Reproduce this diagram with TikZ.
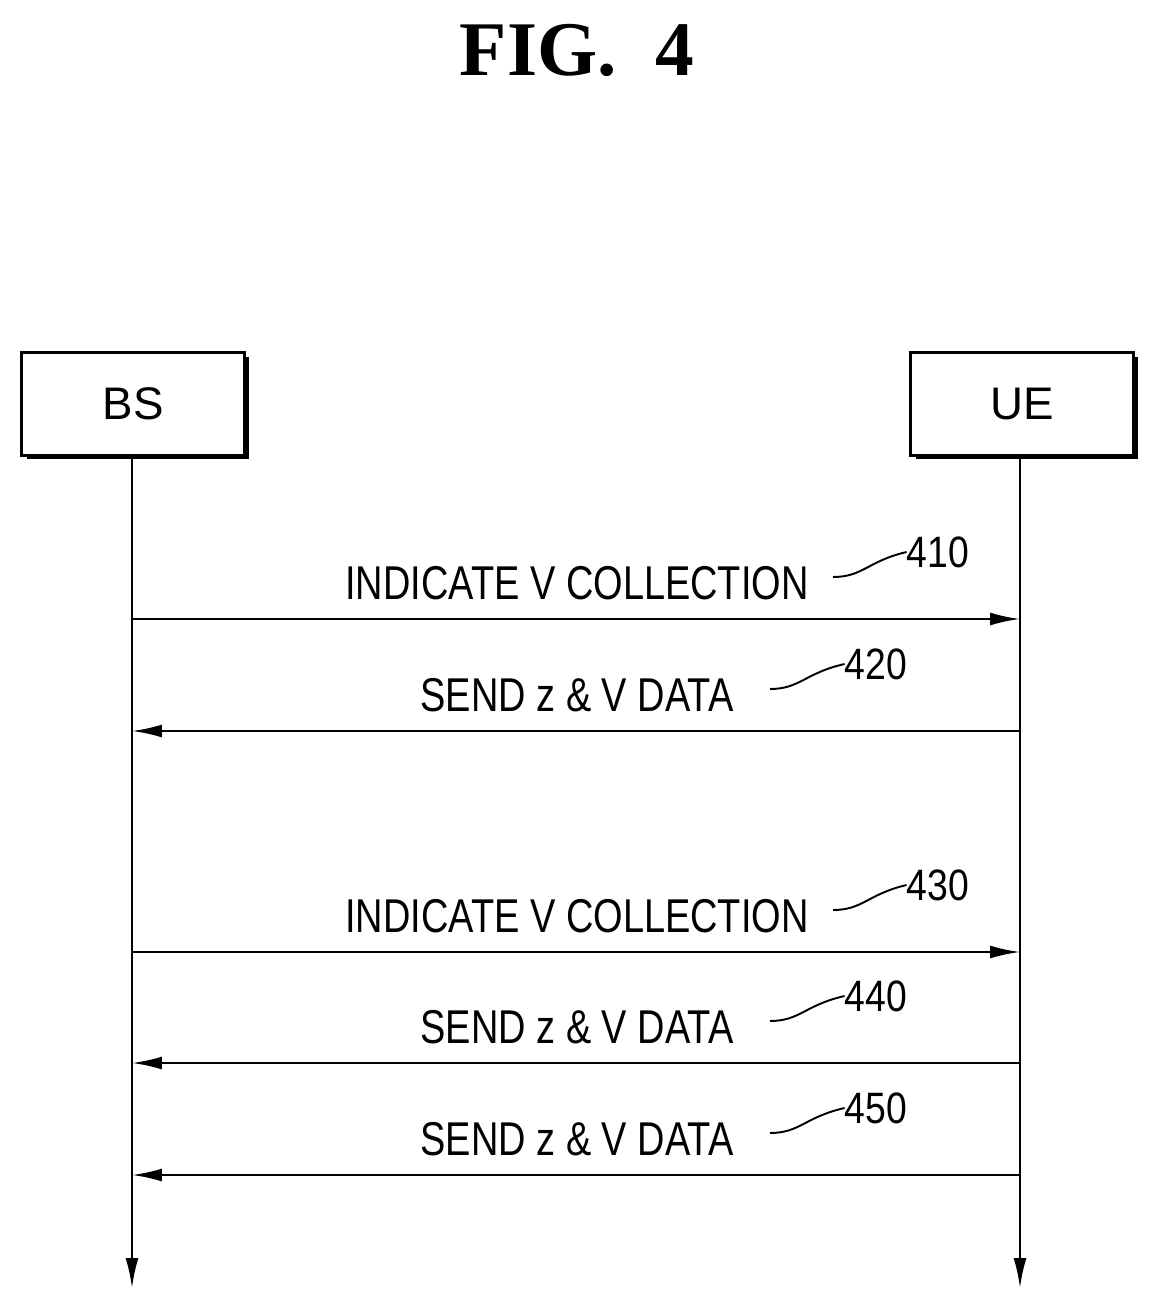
\documentclass[tikz,border=0pt]{standalone}
\usepackage{fontspec}
\setmainfont{Liberation Sans}
\newfontfamily\figfont{Liberation Serif}
\usetikzlibrary{arrows.meta,positioning}
\tikzset{
  entity/.style={draw, line width=1.6pt, fill=white, minimum width=4.46cm, minimum height=2.06cm, font=\fontsize{26}{30}\selectfont},
  shadow/.style={fill=black, minimum width=4.46cm, minimum height=2.06cm, inner sep=0pt},
  life/.style={line width=1.4pt, -{Latex[length=0.6cm,width=0.26cm]}},
  msg/.style={line width=1.4pt, -{Latex[length=0.6cm,width=0.26cm]}},
  lbl/.style={font=\fontsize{27}{30}\selectfont, xscale=0.8, inner sep=0pt},
  refno/.style={font=\fontsize{25}{30}\selectfont, xscale=0.85, inner sep=0pt},
  lead/.style={line width=1.1pt}
}
\begin{document}
\begin{tikzpicture}[x=0.02cm, y=-0.02cm]
\useasboundingbox (0,0) rectangle (1160,1308);

\node[font=\figfont\bfseries\fontsize{44}{50}\selectfont] (title) at (577,50) {FIG.\ \ 4};

\node[shadow] at (138,408) {};
\node[entity] (bs) at (133,404) {BS};
\node[shadow] at (1027,408) {};
\node[entity] (ue) at (1022,404) {UE};

\coordinate (bsend) at (132,1288);
\coordinate (ueend) at (1020,1288);
\draw[life] (bs.south -| bsend) -- (bsend);
\draw[life] (ue.south -| ueend) -- (ueend);

% messages
\foreach \y/\dir/\txt/\num/\nx/\ax in {
  619/r/INDICATE V COLLECTION/410/938/833,
  731/l/SEND z \& V DATA/420/876/770,
  952/r/INDICATE V COLLECTION/430/938/833,
  1063/l/SEND z \& V DATA/440/876/770,
  1175/l/SEND z \& V DATA/450/876/770}{
  \coordinate (b\num) at (132,\y);
  \coordinate (u\num) at (1020,\y);
  \if r\dir
    \draw[msg] (b\num) -- (u\num);
  \else
    \draw[msg] (u\num) -- (b\num);
  \fi
  \node[lbl] (m\num) at (577,\y-36) {\txt};
  \node[refno] (n\num) at (\nx,\y-67) {\num};
  \draw[lead] (\ax,\y-42) .. controls (\ax+30,\y-42) and (\ax+35,\y-58) .. (n\num.west);
}
\end{tikzpicture}
\end{document}
